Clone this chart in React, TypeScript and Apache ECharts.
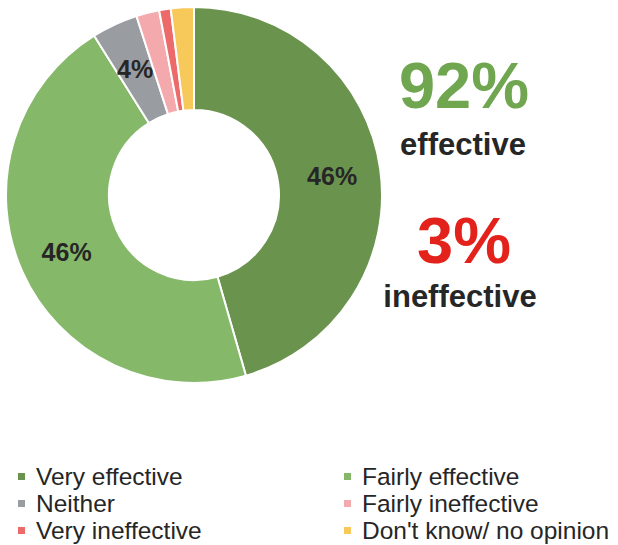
import React, { useEffect, useRef } from "react";
import * as echarts from "echarts";

const categories = [
  "Very effective",
  "Fairly effective",
  "Neither",
  "Fairly ineffective",
  "Very ineffective",
  "Don't know/ no opinion",
];
const values = [46, 46, 4, 2, 1, 2];
const showLabel = [true, true, true, false, false, false];
const colors = ["#6a934e", "#85b869", "#999ca0", "#f4a9ad", "#ec6a6a", "#f7c85a"];
const leftLegend = ["Very effective", "Neither", "Very ineffective"];
const rightLegend = ["Fairly effective", "Fairly ineffective", "Don't know/ no opinion"];
const summary = [
  { big: "92%", small: "effective", color: "#6fa64f" },
  { big: "3%", small: "ineffective", color: "#e3231b" },
];

const FONT = "'Liberation Sans', Arial, Helvetica, sans-serif";

export default function App() {
  const ref = useRef<HTMLDivElement>(null);
  useEffect(() => {
    if (!ref.current) return;
    const chart = echarts.init(ref.current, null, { renderer: "svg" });
    const legendCommon = {
      orient: "vertical" as const,
      top: 463,
      padding: 0,
      itemGap: 0,
      itemWidth: 9,
      itemHeight: 9,
      icon: "rect",
      textStyle: { fontFamily: FONT, fontSize: 24.5, color: "#262626", lineHeight: 27, padding: [0, 0, 0, 5] },
    };
    chart.setOption({
      animation: false,
      color: colors,
      legend: [
        { ...legendCommon, left: 16, data: leftLegend },
        { ...legendCommon, left: 342, data: rightLegend },
      ],
      graphic: [
        {
          type: "text",
          x: 464,
          y: 85,
          style: {
            text: summary[0].big,
            fill: summary[0].color,
            font: `bold 65px ${FONT}`,
            textAlign: "center",
            textVerticalAlign: "middle",
          },
        },
        {
          type: "text",
          x: 463,
          y: 144,
          style: {
            text: summary[0].small,
            fill: "#262626",
            font: `bold 31px ${FONT}`,
            textAlign: "center",
            textVerticalAlign: "middle",
          },
        },
        {
          type: "text",
          x: 464,
          y: 240,
          style: {
            text: summary[1].big,
            fill: summary[1].color,
            font: `bold 65px ${FONT}`,
            textAlign: "center",
            textVerticalAlign: "middle",
          },
        },
        {
          type: "text",
          x: 460,
          y: 296,
          style: {
            text: summary[1].small,
            fill: "#262626",
            font: `bold 31px ${FONT}`,
            textAlign: "center",
            textVerticalAlign: "middle",
          },
        },
      ],
      series: [
        {
          type: "pie",
          center: [194, 195],
          radius: [85, 188],
          startAngle: 90,
          clockwise: true,
          avoidLabelOverlap: false,
          itemStyle: { borderColor: "#ffffff", borderWidth: 2 },
          label: {
            position: "inside",
            formatter: (p: any) => `${p.value}%`,
            fontFamily: FONT,
            fontWeight: "bold",
            fontSize: 25,
            color: "#262626",
          },
          labelLine: { show: false },
          emphasis: { disabled: true },
          data: categories.map((name, i) => ({
            name,
            value: values[i],
            label: { show: showLabel[i] },
          })),
        },
      ],
    });
    return () => chart.dispose();
  }, []);
  return <div ref={ref} style={{ width: 618, height: 545, position: "absolute", left: 0, top: 0 }} />;
}
